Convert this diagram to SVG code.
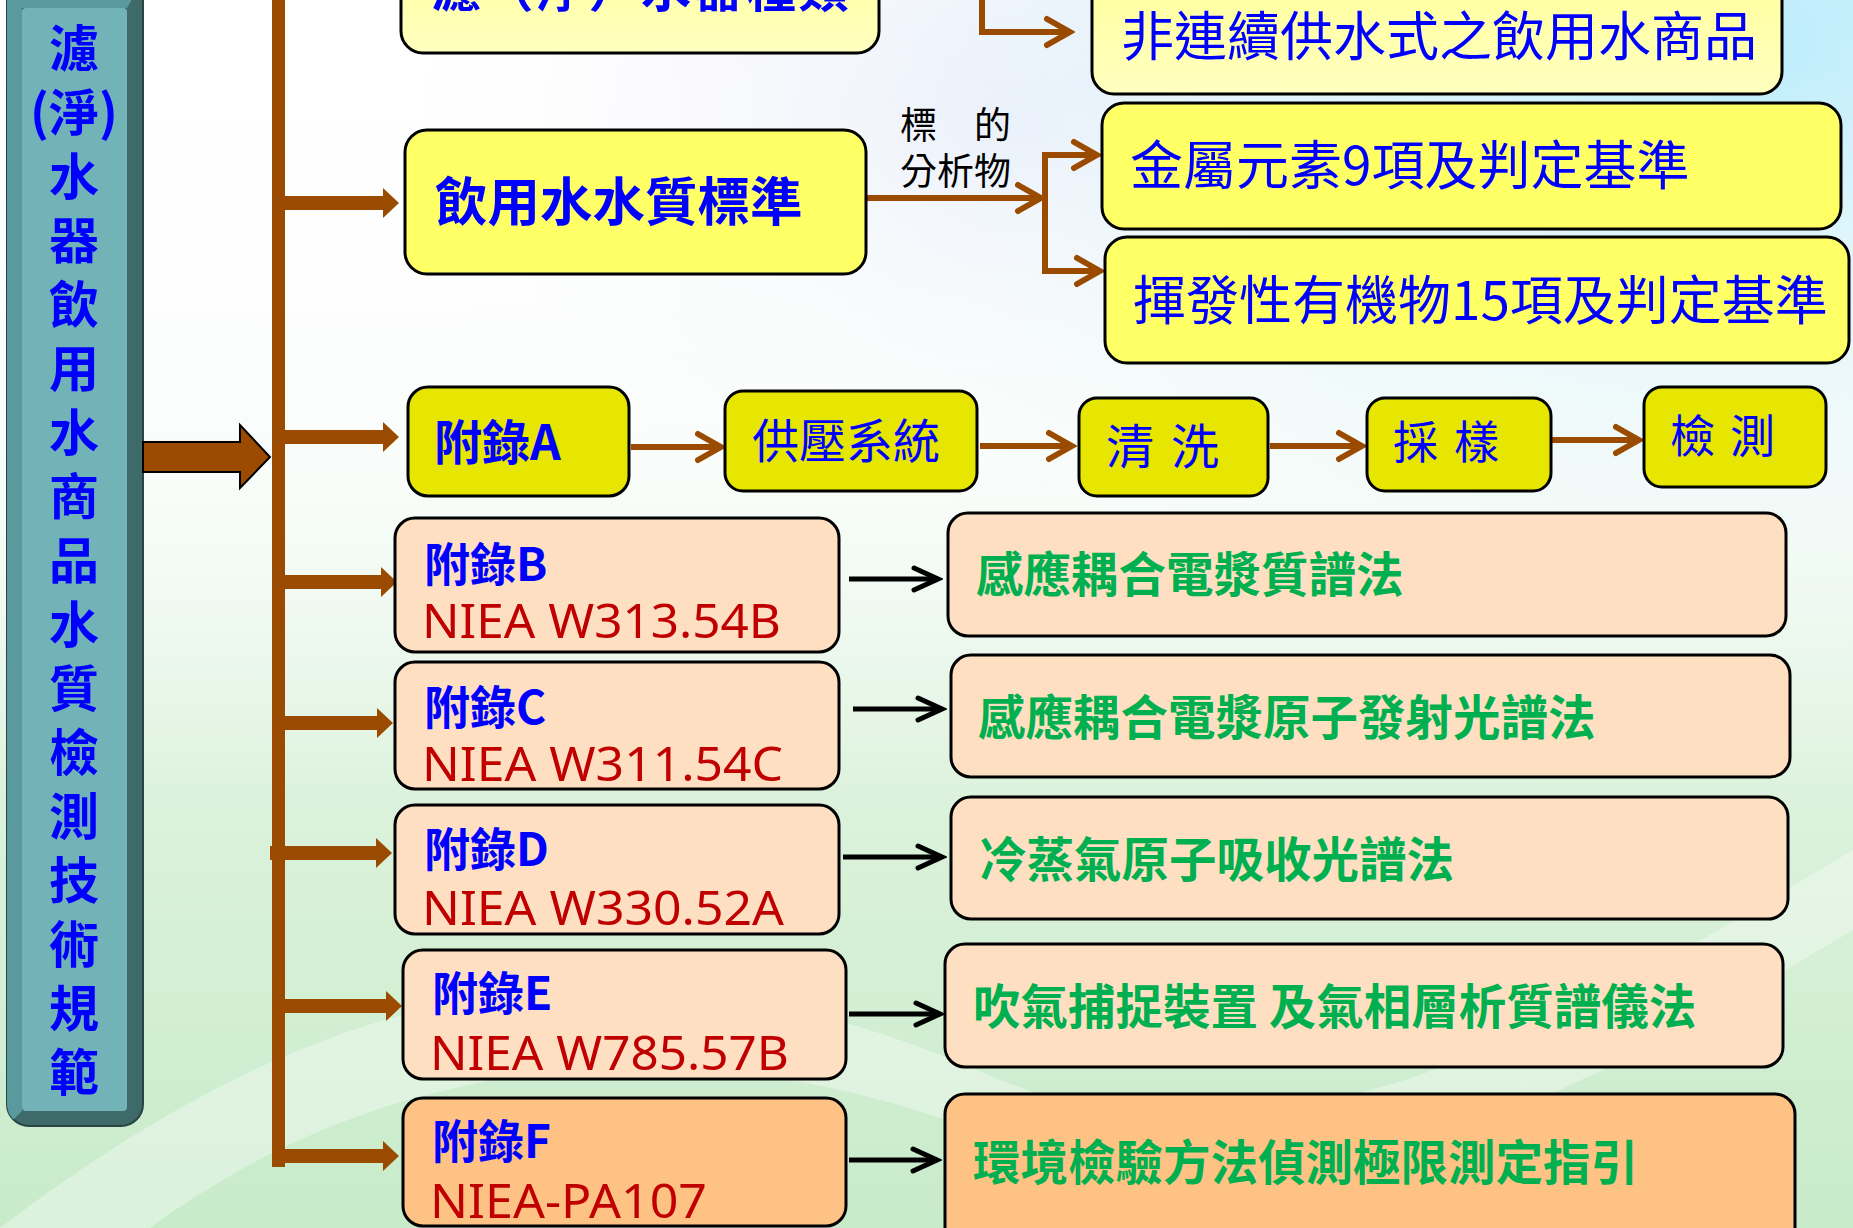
<svg xmlns="http://www.w3.org/2000/svg" width="1853" height="1228" viewBox="0 0 1853 1228">
<defs>
<style>
.cjk{font-family:"Noto Sans CJK TC","Noto Sans CJK SC",sans-serif}
.b{font-weight:bold}
.blue{fill:#0000ff}
.green{fill:#00b050;font-weight:bold}
.red{fill:#c00000;font-family:"Noto Sans","Open Sans",sans-serif}
.box{stroke:#000;stroke-width:3}
.ly{fill:#ffffb0}
.yl{fill:#ffff66}
.ol{fill:#e6e600}
.pe{fill:#ffdfc2}
.or{fill:#ffc285}
.bl{stroke:#9a4b00;stroke-width:6;fill:none}
.kl{stroke:#000;stroke-width:5;fill:none}
.blk{fill:#9a4b00}
</style>
<marker id="ba" markerUnits="userSpaceOnUse" viewBox="0 0 34 34" markerWidth="34" markerHeight="34" refX="29" refY="17" orient="auto">
<path d="M6,4 L29,17 L6,30" fill="none" stroke="#9a4b00" stroke-width="6" stroke-linecap="round"/>
</marker>
<marker id="ka" markerUnits="userSpaceOnUse" viewBox="0 0 34 34" markerWidth="34" markerHeight="34" refX="29" refY="17" orient="auto">
<path d="M5,6 L29,17 L5,28" fill="none" stroke="#000" stroke-width="5" stroke-linecap="round"/>
</marker>
<linearGradient id="bgv" x1="0" y1="0" x2="0" y2="1">
<stop offset="0" stop-color="#ffffff" stop-opacity="0"/>
<stop offset="0.4" stop-color="#f4fbf6" stop-opacity="0.6"/>
<stop offset="0.65" stop-color="#dcf2dc"/>
<stop offset="1" stop-color="#c8ebca"/>
</linearGradient>
<radialGradient id="bgb" cx="0.95" cy="0.05" r="0.6">
<stop offset="0" stop-color="#b8ecfb"/>
<stop offset="0.6" stop-color="#e4f4fb" stop-opacity="0.6"/>
<stop offset="1" stop-color="#ffffff" stop-opacity="0"/>
</radialGradient>
<radialGradient id="bgl" cx="0.55" cy="0.1" r="0.35">
<stop offset="0" stop-color="#e6e8f8"/>
<stop offset="1" stop-color="#ffffff" stop-opacity="0"/>
</radialGradient>
<linearGradient id="lyg" x1="0" y1="0" x2="0" y2="1">
<stop offset="0" stop-color="#ffff99"/>
<stop offset="1" stop-color="#ffffc0"/>
</linearGradient>
<clipPath id="sbc"><rect x="7" y="-20" width="136" height="1146" rx="22"/></clipPath>
</defs>

<g id="background">
<rect width="1853" height="1228" fill="#ffffff"/>
<rect width="1853" height="1228" fill="url(#bgl)"/>
<rect width="1853" height="1228" fill="url(#bgb)"/>
<rect width="1853" height="1228" fill="url(#bgv)"/>
<path d="M0,1228 C300,1000 600,900 1000,1080 C1300,1200 1600,1000 1853,850 L1853,930 C1600,1080 1300,1260 1000,1140 C650,1000 350,1080 150,1228 Z" fill="#ffffff" opacity="0.35"/>
</g>

<g id="sidebar">
<rect x="7" y="-20" width="136" height="1146" rx="22" fill="#3f6a6a" stroke="#2a4444" stroke-width="2"/>
<polygon points="7,-20 143,-20 127,8 22,8 22,1111 7,1126" fill="#5a9a9e" clip-path="url(#sbc)"/>
<rect x="22" y="8" width="105" height="1103" rx="4" fill="#72b3b8"/>
<g class="cjk b blue" font-size="50" text-anchor="middle">
<text x="74" y="67">濾</text>
<text x="74" y="131">(淨)</text>
<text x="74" y="195">水</text>
<text x="74" y="259">器</text>
<text x="74" y="323">飲</text>
<text x="74" y="387">用</text>
<text x="74" y="451">水</text>
<text x="74" y="515">商</text>
<text x="74" y="579">品</text>
<text x="74" y="643">水</text>
<text x="74" y="707">質</text>
<text x="74" y="771">檢</text>
<text x="74" y="835">測</text>
<text x="74" y="899">技</text>
<text x="74" y="963">術</text>
<text x="74" y="1027">規</text>
<text x="74" y="1091">範</text>
</g>
</g>

<g id="connectors">
<polygon points="143,442 240,442 240,425 270,457 240,488 240,472 143,472" class="blk" stroke="#000" stroke-width="2"/>
<rect x="272" y="0" width="13" height="1167" class="blk"/>
<polygon class="blk" points="279,196 383,196 383,188 399,203 383,218 383,210 279,210"/>
<polygon class="blk" points="279,430 383,430 383,422 399,437 383,452 383,444 279,444"/>
<polygon class="blk" points="279,575 381,575 381,567 397,582 381,597 381,589 279,589"/>
<polygon class="blk" points="272,716 377,716 377,708 393,723 377,738 377,730 272,730"/>
<polygon class="blk" points="270,846 376,846 376,838 392,853 376,868 376,860 270,860"/>
<polygon class="blk" points="279,999 386,999 386,991 402,1006 386,1021 386,1013 279,1013"/>
<polygon class="blk" points="279,1149 383,1149 383,1141 399,1156 383,1171 383,1163 279,1163"/>
<path class="bl" d="M982,0 V32 H1070" marker-end="url(#ba)"/>
<path class="bl" d="M866,198 H1041" marker-end="url(#ba)"/>
<path class="bl" d="M1045,155 V271"/>
<path class="bl" d="M1042,155 H1097" marker-end="url(#ba)"/>
<path class="bl" d="M1042,271 H1100" marker-end="url(#ba)"/>
<path class="bl" d="M631,447 H721" marker-end="url(#ba)"/>
<path class="bl" d="M980,446 H1072" marker-end="url(#ba)"/>
<path class="bl" d="M1270,446 H1362" marker-end="url(#ba)"/>
<path class="bl" d="M1551,440 H1639" marker-end="url(#ba)"/>
<path class="kl" d="M849,579 H938" marker-end="url(#ka)"/>
<path class="kl" d="M853,709 H942" marker-end="url(#ka)"/>
<path class="kl" d="M843,857 H942" marker-end="url(#ka)"/>
<path class="kl" d="M849,1014 H940" marker-end="url(#ka)"/>
<path class="kl" d="M849,1160 H937" marker-end="url(#ka)"/>
</g>

<g id="node-type">
<rect x="401" y="-60" width="478" height="113" rx="22" class="box" fill="url(#lyg)"/>
<text x="431" y="7" class="cjk b blue" font-size="50" letter-spacing="2.5">濾（淨）水器種類</text>
</g>

<g id="node-standard">
<rect x="405" y="130" width="461" height="144" rx="22" class="box yl"/>
<text x="435" y="221" class="cjk b blue" font-size="52.5">飲用水水質標準</text>
</g>

<g id="label-analyte" class="cjk" font-size="37" fill="#000">
<text x="900" y="139">標　的</text>
<text x="900" y="185">分析物</text>
</g>

<g id="node-noncontinuous">
<rect x="1092" y="-40" width="690" height="134" rx="22" class="box" fill="url(#lyg)"/>
<text x="1121" y="56" class="cjk blue" font-size="53">非連續供水式之飲用水商品</text>
</g>

<g id="node-metal">
<rect x="1102" y="103" width="739" height="126" rx="22" class="box yl"/>
<text x="1130" y="185" class="cjk blue" font-size="53">金屬元素9項及判定基準</text>
</g>

<g id="node-voc">
<rect x="1105" y="237" width="744" height="126" rx="22" class="box yl"/>
<text x="1133" y="320" class="cjk blue" font-size="53">揮發性有機物15項及判定基準</text>
</g>

<g id="node-A">
<rect x="408" y="387" width="221" height="109" rx="20" class="box ol"/>
<text x="434" y="460" class="cjk b blue" font-size="48">附錄A</text>
</g>

<g id="node-pressure">
<rect x="725" y="391" width="252" height="100" rx="18" class="box ol"/>
<text x="752" y="458" class="cjk blue" font-size="47">供壓系統</text>
</g>

<g id="node-clean">
<rect x="1079" y="398" width="189" height="98" rx="18" class="box ol"/>
<text x="1106 1154 1171" y="464" class="cjk blue" font-size="48">清 洗</text>
</g>

<g id="node-sample">
<rect x="1367" y="398" width="184" height="93" rx="18" class="box ol"/>
<text x="1393 1440 1454" y="459" class="cjk blue" font-size="45">採 樣</text>
</g>

<g id="node-detect">
<rect x="1644" y="387" width="182" height="100" rx="18" class="box ol"/>
<text x="1670 1715 1730" y="453" class="cjk blue" font-size="45">檢 測</text>
</g>

<g id="node-B">
<rect x="395" y="518" width="444" height="134" rx="20" class="box pe"/>
<text x="424" y="581" class="cjk b blue" font-size="46">附錄B</text>
<text x="422" y="638" class="red" font-size="47" textLength="359" lengthAdjust="spacingAndGlyphs">NIEA W313.54B</text>
</g>

<g id="node-C">
<rect x="395" y="662" width="444" height="127" rx="20" class="box pe"/>
<text x="424" y="724" class="cjk b blue" font-size="46">附錄C</text>
<text x="422" y="781" class="red" font-size="47" textLength="361" lengthAdjust="spacingAndGlyphs">NIEA W311.54C</text>
</g>

<g id="node-D">
<rect x="395" y="805" width="444" height="129" rx="20" class="box pe"/>
<text x="424" y="866" class="cjk b blue" font-size="46">附錄D</text>
<text x="422" y="925" class="red" font-size="47" textLength="362" lengthAdjust="spacingAndGlyphs">NIEA W330.52A</text>
</g>

<g id="node-E">
<rect x="403" y="950" width="443" height="129" rx="20" class="box pe"/>
<text x="432" y="1010" class="cjk b blue" font-size="46">附錄E</text>
<text x="430" y="1070" class="red" font-size="47" textLength="359" lengthAdjust="spacingAndGlyphs">NIEA W785.57B</text>
</g>

<g id="node-F">
<rect x="403" y="1098" width="443" height="128" rx="20" class="box or"/>
<text x="432" y="1158" class="cjk b blue" font-size="46">附錄F</text>
<text x="430" y="1218" class="red" font-size="47" textLength="277" lengthAdjust="spacingAndGlyphs">NIEA-PA107</text>
</g>

<g id="node-icpms">
<rect x="948" y="513" width="838" height="123" rx="20" class="box pe"/>
<text x="976" y="592" class="cjk green" font-size="47.5">感應耦合電漿質譜法</text>
</g>

<g id="node-icpaes">
<rect x="951" y="655" width="839" height="122" rx="20" class="box pe"/>
<text x="978" y="735" class="cjk green" font-size="47.5">感應耦合電漿原子發射光譜法</text>
</g>

<g id="node-cvaas">
<rect x="951" y="797" width="837" height="122" rx="20" class="box pe"/>
<text x="979" y="877" class="cjk green" font-size="47.5">冷蒸氣原子吸收光譜法</text>
</g>

<g id="node-ptgcms">
<rect x="945" y="944" width="838" height="123" rx="20" class="box pe"/>
<text x="973" y="1024" class="cjk green" font-size="47.5">吹氣捕捉裝置 及氣相層析質譜儀法</text>
</g>

<g id="node-mdl">
<rect x="945" y="1094" width="850" height="160" rx="20" class="box or"/>
<text x="973" y="1180" class="cjk green" font-size="47.5">環境檢驗方法偵測極限測定指引</text>
</g>
</svg>
